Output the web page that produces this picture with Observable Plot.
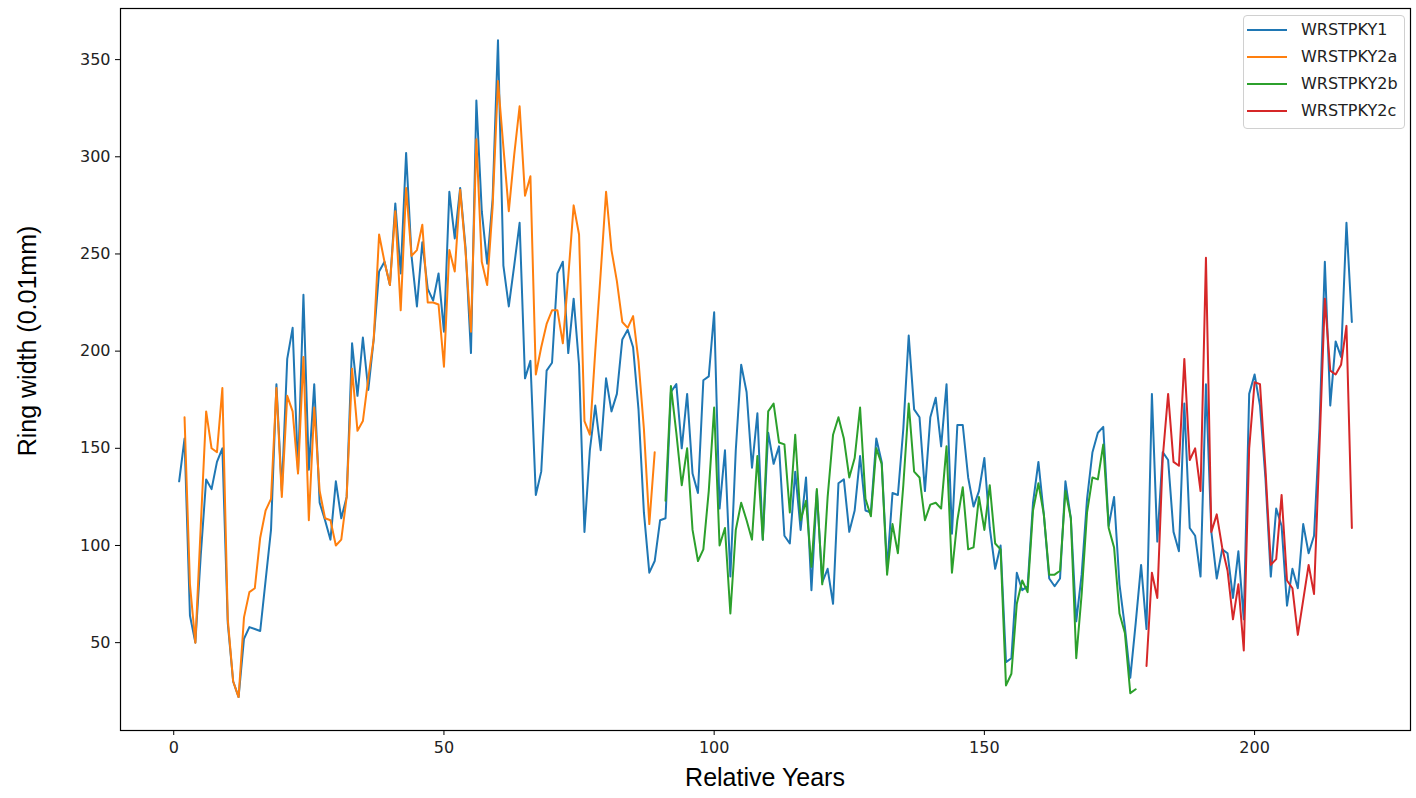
<!DOCTYPE html>
<html>
<head>
<meta charset="utf-8">
<script src="https://cdn.jsdelivr.net/npm/d3@7"></script>
<script src="https://cdn.jsdelivr.net/npm/@observablehq/plot@0.6"></script>
<style>
  html, body { margin: 0; padding: 0; background: #fff; }
  #wrap { position: relative; width: 1416px; height: 798px; overflow: hidden; }
  .lbl { position: absolute; font-family: "Liberation Sans", Arial, sans-serif; color: #000; white-space: nowrap; }
  #legend { position: absolute; left: 1243px; top: 15px; width: 162px; height: 114px; box-sizing: border-box;
            border: 1px solid #d0d0d0; border-radius: 4px; background: rgba(255,255,255,0.85); }
  .row { position: absolute; left: 0; height: 20px; font-family: "DejaVu Sans", sans-serif; font-size: 16px; color: #222; }
  .row .sw { position: absolute; left: 3px; top: 9px; width: 40px; height: 2px; }
  .row .tx { position: absolute; left: 57px; top: 0px; line-height: 20px; }
</style>
</head>
<body>
<div id="wrap"></div>
<script>
// Series names and colours (matplotlib tab10)
const seriesNames = ["WRSTPKY1", "WRSTPKY2a", "WRSTPKY2b", "WRSTPKY2c"];
const seriesColors = ["#1f77b4", "#ff7f0e", "#2ca02c", "#d62728"];

// First relative year of each series
const start1 = 1, start2a = 2, start2b = 91, start2c = 180;

// WRSTPKY1, years 1..218
const ring1 = [
  133,155,64,50,95,134,129,143,150,60,
  30,22,52,58,57,56,82,108,183,128,
  196,212,138,229,139,183,122,113,103,133,
  114,125,204,177,207,180,206,241,246,234,
  276,240,302,249,223,256,232,226,240,210,
  282,258,284,253,199,329,272,245,278,360,
  244,223,244,266,186,195,126,138,190,194,
  240,246,199,227,193,107,149,172,149,186,
  169,178,206,211,202,170,117,86,92,113,
  114,179,183,150,178,137,127,185,187,220,
  119,149,84,149,193,179,140,168,103,158,
  142,151,105,101,138,108,135,77,128,81,
  88,70,132,134,107,118,146,118,117,155,
  143,88,127,126,160,208,170,166,128,166,
  176,151,183,106,162,162,135,120,128,145,
  109,88,100,40,42,86,77,79,122,143,
  116,83,79,83,133,114,61,85,124,148,
  158,161,110,125,80,58,32,60,90,57,
  178,102,148,144,107,97,173,109,105,84,
  183,107,83,98,96,73,97,62,178,188,
  172,135,84,119,110,69,88,78,111,96,
  105,160,246,172,205,197,266,215
];

// WRSTPKY2a, years 2..89
const ring2a = [
  166,80,50,110,169,150,148,181,62,
  30,22,63,76,78,104,118,124,181,125,
  177,169,137,197,113,171,128,114,113,100,
  103,125,191,159,164,186,206,260,246,234,
  272,221,284,249,252,265,225,225,224,192,
  252,241,283,251,210,309,246,234,274,339,
  305,272,301,326,280,290,188,202,214,221,
  221,204,238,275,260,164,157,200,240,282,
  252,236,215,212,218,195,160,111,148
];

// WRSTPKY2b, years 91..178
const ring2b = [
  123,182,158,131,150,108,92,98,128,171,
  100,109,65,108,122,113,103,146,103,169,
  173,153,152,117,157,113,123,89,129,80,
  125,157,166,155,135,145,171,124,115,150,
  142,85,111,96,131,173,138,135,113,121,
  122,119,151,86,113,130,98,99,125,108,
  131,101,98,28,34,70,82,76,118,132,
  116,85,85,87,128,114,42,75,117,135,
  134,152,109,99,65,55,24,26
];

// WRSTPKY2c, years 180..218
const ring2c = [
  38,86,73,145,178,143,141,196,144,150,
  128,248,107,116,99,87,62,80,46,150,
  184,183,140,90,93,126,82,78,54,72,
  90,75,150,227,190,188,193,213,109
];

// Axis tick values
const xTicks = [0, 50, 100, 150, 200];
const yTicks = [50, 100, 150, 200, 250, 300, 350];

function toRows(values, first, name) {
  return values.map((v, i) => ({year: first + i, width: v, series: name}));
}
const rows = [
  ...toRows(ring1, start1, seriesNames[0]),
  ...toRows(ring2a, start2a, seriesNames[1]),
  ...toRows(ring2b, start2b, seriesNames[2]),
  ...toRows(ring2c, start2c, seriesNames[3])
];

const chart = Plot.plot({
  width: 1416,
  height: 798,
  marginLeft: 120,
  marginRight: 6,
  marginTop: 8,
  marginBottom: 68,
  style: {fontFamily: "DejaVu Sans, sans-serif", fontSize: "16px", color: "#222", background: "#fff"},
  x: {domain: [-9.85, 228.85], label: null},
  y: {domain: [4.8, 376.3], label: null},
  color: {domain: seriesNames, range: seriesColors},
  marks: [
    Plot.axisX({ticks: xTicks, tickSize: 5, tickPadding: 6, label: null, fontSize: 16, stroke: "#000"}),
    Plot.axisY({ticks: yTicks, tickSize: 5, tickPadding: 5, label: null, fontSize: 16, stroke: "#000"}),
    ...seriesNames.map(name =>
      Plot.line(rows.filter(d => d.series === name), {
        x: "year", y: "width", stroke: "series", strokeWidth: 2
      })
    ),
    Plot.frame({stroke: "#000", strokeWidth: 1.2})
  ]
});

const wrap = document.getElementById("wrap");
wrap.appendChild(chart);

// axis titles
const xl = document.createElement("div");
xl.className = "lbl";
xl.textContent = "Relative Years";
xl.style.fontSize = "25px";
xl.style.left = "765px";
xl.style.top = "763px";
xl.style.transform = "translateX(-50%)";
wrap.appendChild(xl);

const yl = document.createElement("div");
yl.className = "lbl";
yl.textContent = "Ring width (0.01mm)";
yl.style.fontSize = "25px";
yl.style.left = "27px";
yl.style.top = "341px";
yl.style.transform = "translate(-50%, -50%) rotate(-90deg)";
wrap.appendChild(yl);

// legend
const legend = document.createElement("div");
legend.id = "legend";
seriesNames.forEach((name, i) => {
  const row = document.createElement("div");
  row.className = "row";
  row.style.top = (4 + i * 27) + "px";
  row.style.width = "160px";
  const sw = document.createElement("div");
  sw.className = "sw";
  sw.style.background = seriesColors[i];
  const tx = document.createElement("div");
  tx.className = "tx";
  tx.textContent = name;
  row.appendChild(sw);
  row.appendChild(tx);
  legend.appendChild(row);
});
wrap.appendChild(legend);
</script>
</body>
</html>
